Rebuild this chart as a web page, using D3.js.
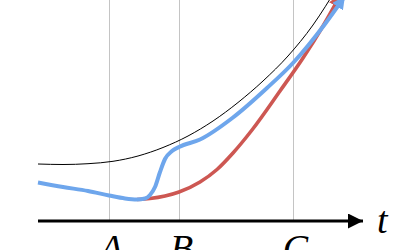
<!DOCTYPE html>
<html><head><meta charset="utf-8">
<script src="https://cdn.jsdelivr.net/npm/d3@7"></script>
<style>html,body{margin:0;padding:0;background:#fff;overflow:hidden}svg{display:block}</style>
</head><body>
<svg id="c" width="400" height="250"></svg>
<script>
// tick labels and positions (t units)
const tickLabels = ["A", "B", "C"];
const tickValues = [1.42, 2.82, 5.1];
const axisLabel = "t";

// black thin reference curve
const blackT = [0, 0.5, 1, 1.5, 2, 2.5, 3, 3.5, 4, 4.5, 5, 5.5, 6];
const blackV = [1.14, 1.13, 1.146, 1.194, 1.30, 1.47, 1.70, 2.00, 2.37, 2.80, 3.30, 3.92, 4.70];

// blue curve
const blueT = [0, 0.5, 1.0, 1.42, 1.74, 1.98, 2.14, 2.24, 2.34, 2.44, 2.54, 2.68, 2.82, 3.24, 3.9, 4.58, 5.1, 5.74, 6.14];
const blueV = [0.77, 0.68, 0.60, 0.51, 0.45, 0.43, 0.45, 0.52, 0.68, 0.98, 1.24, 1.40, 1.48, 1.63, 2.07, 2.66, 3.16, 3.94, 4.50];

// red curve
const redT = [1.98, 2.24, 2.54, 2.82, 3.24, 3.58, 3.90, 4.28, 4.84, 5.30, 5.70, 6.06];
const redV = [0.43, 0.45, 0.50, 0.58, 0.78, 1.03, 1.36, 1.82, 2.60, 3.26, 3.90, 4.54];

const svg = d3.select("#c");
const x = d3.scaleLinear().domain([0, 6.5]).range([38, 363]);
const y = d3.scaleLinear().domain([0, 4.42]).range([221, 0]);

const defs = svg.append("defs");
function marker(id, color, len, wid) {
  defs.append("marker").attr("id", id)
    .attr("markerUnits", "userSpaceOnUse")
    .attr("viewBox", `0 ${-wid/2} ${len} ${wid}`)
    .attr("refX", len).attr("refY", 0)
    .attr("markerWidth", len).attr("markerHeight", wid)
    .attr("orient", "auto")
    .append("path")
    .attr("d", `M0,${-wid/2} L${len},0 L0,${wid/2} Z`)
    .attr("fill", color);
}
marker("ab", "#6ea6ec", 13, 13);
marker("ar", "#cd5752", 13, 13);
marker("ak", "#000", 15, 15);

// gridlines + labels through axis
const axis = d3.axisBottom(x).tickValues(tickValues)
  .tickFormat((d, i) => tickLabels[i])
  .tickSizeInner(-221).tickSizeOuter(0).tickPadding(0);
const g = svg.append("g").attr("transform", `translate(0,${y(0)})`).call(axis);
g.select(".domain").remove();
g.selectAll(".tick line").attr("stroke", "#c4c4c4").attr("stroke-width", 1);
g.selectAll(".tick text")
  .attr("y", 40).attr("dy", 0).attr("dx", 2)
  .attr("font-family", "'Liberation Serif', 'DejaVu Serif', serif")
  .attr("font-style", "italic").attr("font-size", 38).attr("fill", "#000");

// axis line with arrow
svg.append("line")
  .attr("x1", x(0)).attr("x2", x(6.5)).attr("y1", y(0)).attr("y2", y(0))
  .attr("stroke", "#000").attr("stroke-width", 3.2).attr("marker-end", "url(#ak)");
svg.append("text").text(axisLabel)
  .attr("x", 377).attr("y", 233)
  .attr("font-family", "'Liberation Serif', 'DejaVu Serif', serif")
  .attr("font-style", "italic").attr("font-size", 38).attr("fill", "#000");

const line = d3.line().x(d => x(d[0])).y(d => y(d[1])).curve(d3.curveMonotoneX);

svg.append("path").datum(blackT.map((t, i) => [t, blackV[i]]))
  .attr("d", line).attr("fill", "none").attr("stroke", "#000").attr("stroke-width", 1);

svg.append("path").datum(redT.map((t, i) => [t, redV[i]]))
  .attr("d", line).attr("fill", "none").attr("stroke", "#cd5752").attr("stroke-width", 3.6)
  .attr("marker-end", "url(#ar)");

svg.append("path").datum(blueT.map((t, i) => [t, blueV[i]]))
  .attr("d", line).attr("fill", "none").attr("stroke", "#6ea6ec").attr("stroke-width", 4)
  .attr("marker-end", "url(#ab)");
</script>
</body></html>
